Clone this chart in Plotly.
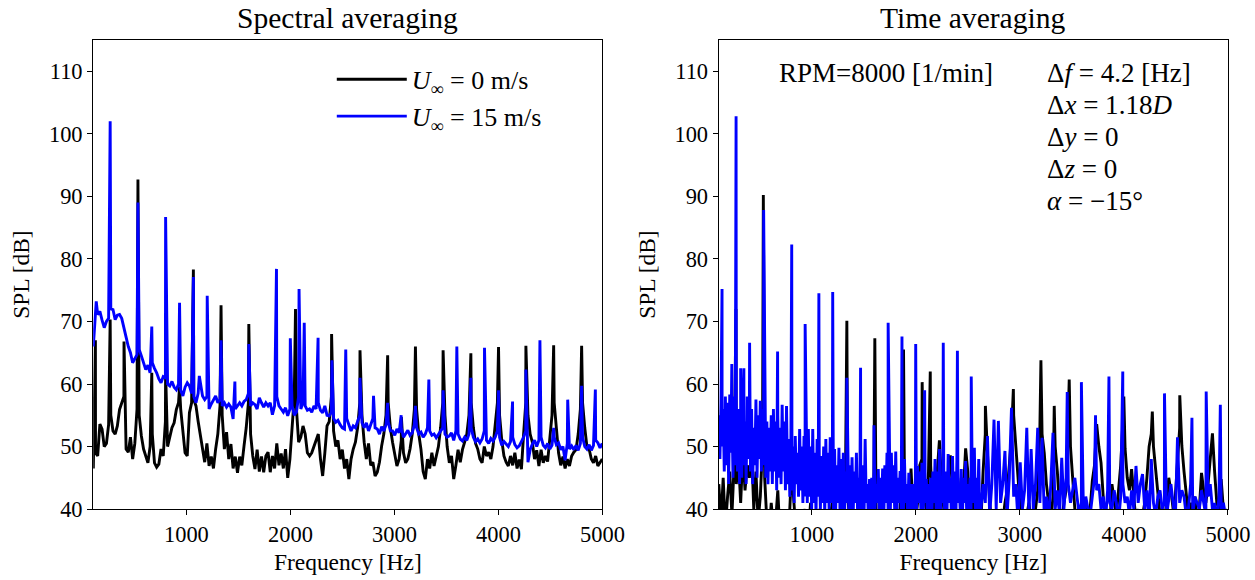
import plotly.graph_objects as go

# ---------------- data ----------------
# spectral bins used for the broadband part: 105 Hz ... 4998 Hz every 21 Hz
FREQ_START = 105
FREQ_STEP = 21
N_BINS = 234
N_LF = 120          # bins below 2615 Hz, where the time-averaged U=15 trace is read at half-bin steps

# Spectral averaging, U = 0 m/s : broadband level per bin [dB]
spec_u0_base = [
    46.5, 49.0, 48.5, 53.6, 52.8, 50.0, 50.5, 53.5, 55.0, 52.5,
    52.0, 53.3, 55.9, 57.0, 58.0, 49.6, 49.1, 51.5, 48.0, 50.5,
    56.0, 55.0, 51.7, 49.6, 48.5, 47.4, 50.0, 52.0, 47.4, 46.7,
    47.2, 49.6, 48.5, 54.0, 50.0, 51.7, 53.0, 53.8, 55.9, 57.0,
    56.0, 52.5, 49.0, 48.5, 55.4, 57.0, 57.5, 56.5, 54.0, 51.7,
    49.6, 47.5, 50.5, 46.9, 48.4, 46.5, 49.6, 52.0, 56.5, 55.0,
    49.6, 52.3, 48.0, 50.4, 46.5, 48.4, 45.8, 48.4, 47.0, 50.1,
    53.0, 57.0, 52.0, 48.5, 46.4, 49.5, 46.0, 48.4, 45.9, 48.5,
    49.1, 45.9, 48.5, 46.5, 50.5, 47.0, 48.9, 46.5, 49.6, 45.0,
    48.0, 53.9, 58.0, 56.0, 50.7, 51.5, 53.3, 52.0, 49.0, 48.5,
    49.0, 50.0, 50.7, 52.0, 48.0, 45.3, 49.0, 53.3, 54.0, 58.0,
    52.5, 50.0, 51.0, 48.0, 49.5, 46.5, 48.0, 44.8, 48.0, 49.6,
    50.7, 53.0, 57.0, 55.0, 50.7, 48.0, 50.5, 47.0, 47.5, 45.3,
    45.9, 47.5, 50.1, 52.0, 55.0, 57.0, 53.0, 50.7, 49.0, 46.9,
    48.0, 51.0, 49.0, 47.4, 48.0, 49.6, 52.0, 56.0, 56.0, 52.0,
    49.6, 46.0, 44.8, 48.0, 46.5, 49.0, 46.9, 48.5, 50.0, 53.0,
    57.0, 55.0, 50.0, 47.4, 48.5, 44.8, 47.0, 49.5, 47.5, 49.5,
    50.7, 52.0, 55.0, 57.0, 53.0, 50.5, 49.6, 48.0, 47.4, 50.0,
    48.5, 49.1, 48.0, 50.0, 53.0, 57.0, 55.0, 51.0, 48.5, 47.5,
    46.9, 48.5, 47.0, 49.0, 46.5, 47.9, 46.4, 52.0, 57.0, 55.0,
    52.0, 50.7, 48.0, 49.4, 46.9, 49.5, 47.4, 48.5, 47.6, 51.0,
    55.0, 57.0, 53.0, 49.0, 47.0, 48.4, 46.5, 48.0, 46.9, 48.5,
    49.1, 49.5, 52.0, 56.0, 57.0, 53.0, 50.0, 49.6, 48.0, 47.4,
    48.5, 46.9, 47.5, 48.0,
]
# Spectral averaging, U = 0 m/s : tonal peaks
spec_u0_peak_f = [125, 267, 400, 534, 667, 800, 934, 1067, 1333, 1600, 2049,
                  2396, 2669, 2935, 3067, 3202, 3468, 3735, 4001, 4264, 4531, 4800]
spec_u0_peak_spl = [67.0, 70.3, 66.8, 92.7, 61.8, 62.0, 59.5, 78.3, 72.6, 69.6, 72.0,
                    68.0, 65.4, 64.6, 54.7, 66.0, 65.4, 64.9, 65.9, 66.1, 66.2, 66.1]

# Spectral averaging, U = 15 m/s : broadband level per bin [dB]
spec_u15_base = [
    66.0, 71.0, 71.1, 71.6, 70.2, 69.0, 70.0, 70.5, 72.0, 71.9,
    70.3, 71.0, 71.1, 70.5, 69.2, 67.5, 66.0, 65.0, 63.4, 64.0,
    64.7, 65.5, 64.5, 63.4, 62.3, 63.0, 61.8, 63.4, 62.5, 61.8,
    60.8, 60.2, 61.2, 61.0, 60.0, 59.7, 60.4, 59.5, 59.1, 60.0,
    59.0, 58.1, 59.5, 60.2, 59.7, 58.5, 58.0, 57.0, 58.5, 60.2,
    58.1, 57.5, 58.0, 56.0, 56.8, 57.5, 58.1, 57.0, 57.5, 56.5,
    57.0, 56.3, 56.8, 56.3, 54.4, 56.0, 56.5, 57.0, 56.5, 57.2,
    57.5, 58.5, 56.5, 57.0, 56.7, 56.0, 57.8, 57.0, 56.3, 57.0,
    56.5, 57.0, 55.1, 56.5, 58.0, 56.5, 56.0, 55.5, 56.2, 54.9,
    56.0, 56.5, 55.0, 55.5, 58.0, 56.0, 57.0, 56.5, 55.8, 56.0,
    55.5, 56.5, 56.0, 57.0, 55.8, 55.4, 56.5, 55.0, 54.9, 55.5,
    54.5, 53.9, 54.2, 53.5, 53.0, 52.8, 54.5, 53.5, 52.5, 53.3,
    53.0, 54.0, 55.0, 53.8, 53.0, 53.8, 52.5, 53.5, 54.5, 53.0,
    52.8, 52.0, 53.2, 52.5, 53.5, 54.0, 52.5, 52.5, 51.8, 52.8,
    52.2, 53.0, 51.5, 52.0, 52.6, 51.8, 52.2, 53.5, 53.0, 52.0,
    52.3, 51.5, 52.0, 53.0, 52.5, 51.8, 52.0, 51.4, 52.0, 52.5,
    53.0, 52.0, 51.5, 51.7, 52.2, 51.0, 52.5, 52.0, 51.2, 50.9,
    51.5, 51.0, 52.0, 53.0, 51.5, 50.8, 51.2, 50.6, 51.2, 52.5,
    51.0, 50.5, 51.3, 50.9, 51.5, 52.5, 51.5, 50.2, 50.8, 50.4,
    50.0, 50.8, 51.5, 50.3, 49.8, 50.1, 50.8, 51.5, 52.5, 47.5,
    49.5, 50.4, 51.0, 50.0, 51.0, 51.5, 50.2, 49.8, 50.5, 49.6,
    50.2, 51.5, 50.3, 50.6, 49.5, 50.0, 47.8, 50.5, 49.6, 50.1,
    49.5, 50.2, 49.4, 50.5, 51.5, 50.0, 49.6, 50.3, 49.4, 50.2,
    51.0, 50.6, 49.8, 50.5,
]
spec_u15_peak_f = [133, 267, 534, 667, 800, 934, 1067, 1124, 1200, 1333, 1466, 1600,
                   1866, 1999, 2083, 2133, 2266, 2399, 2532, 2669, 2799, 2935, 3065,
                   3202, 3331, 3468, 3600, 3735, 3866, 4001, 4136, 4264, 4399, 4531,
                   4666, 4800, 4932]
spec_u15_peak_spl = [73.2, 102.0, 89.0, 69.2, 86.7, 73.0, 77.1, 61.3, 74.1, 67.0, 60.4, 66.4,
                     78.4, 67.3, 75.2, 69.8, 67.4, 63.8, 65.5, 61.0, 58.1, 57.0, 55.0,
                     56.5, 60.7, 59.0, 66.0, 61.0, 65.8, 59.0, 57.2, 62.3, 67.0, 53.0,
                     57.5, 59.7, 59.1]

# Time averaging, U = 0 m/s : broadband level per bin [dB]
time_u0_base = [
    44, 38, 45, 37, 42, 46, 39, 47, 44, 48,
    41, 49, 43, 47, 45, 49.5, 40, 46, 38, 42,
    50, 45, 38, 36, 41, 37, 38, 43, 36, 38,
    37, 39, 36, 44, 43, 38, 36, 39, 37, 40,
    38, 36, 41, 39, 37, 38, 40, 36, 38, 37,
    36, 39, 41, 37, 38, 36, 39, 40, 45, 42,
    38, 36, 39, 37, 40, 38, 36, 39, 37, 38,
    41, 45, 40, 37, 38, 36, 39, 37, 36, 38,
    37, 39, 36, 40, 46, 44, 38, 37, 46.5, 39,
    38, 41, 47, 48, 42, 40, 46, 47, 39, 41,
    46, 51, 44, 40, 42, 45, 48.6, 43, 40, 44,
    41, 45, 43, 49.7, 46, 38, 42, 36, 39, 40,
    38, 46, 52, 48, 41, 38, 36, 39, 37, 40,
    38, 41, 43, 47, 52, 55, 50, 44, 40, 38,
    37, 39, 41, 38, 36, 40, 43, 53, 52, 49,
    44, 41, 38, 42, 50, 46, 40, 38, 41, 43,
    55, 50, 44, 40, 38, 37, 39, 36, 41, 38,
    40, 44.5, 47, 53.6, 50, 47.4, 42, 38, 40, 37,
    44, 41, 39, 43, 47, 54, 49.7, 45, 43, 46.4,
    42, 38, 40, 37, 39, 41, 45, 50, 52, 50,
    46, 42, 39, 40, 38, 41, 45, 43, 40, 42,
    48, 53, 50.1, 46, 42, 39, 41, 40, 42, 38,
    40, 45.8, 43, 41, 44, 48, 52.1, 46, 41, 40,
    44.8, 40, 39, 40,
]
time_u0_peak_f = [270, 533, 1336, 1605, 1881, 2060, 2138, 2668, 2937, 3202, 3330,
                  3474, 3999, 4273, 4537, 4849]
time_u0_peak_spl = [72.0, 90.2, 70.1, 67.3, 65.5, 60.3, 62.0, 56.5, 59.2, 63.8, 56.5,
                    60.7, 58.0, 55.6, 58.2, 52.1]

# Time averaging, U = 15 m/s, below 2615 Hz: local maxima at the bins ...
time_u15_lf_top = [
    55, 57, 56, 58, 57, 58.3, 56, 58, 57, 56,
    55, 57, 54, 58, 56, 56, 53, 57.5, 55, 57.3,
    56, 57, 54, 53, 55, 56, 54, 55, 53, 56.7,
    54, 56.5, 51.2, 51, 50, 51.7, 49, 52.8, 50, 51.7,
    50, 52.8, 50, 52.8, 49, 51.2, 48, 48.5, 50, 51.2,
    49, 51.5, 48, 49.6, 47, 49.8, 48, 49, 46, 47,
    47, 48.3, 46, 49, 45, 44.8, 47, 51.2, 44, 44.8,
    45, 46.1, 44, 46.4, 45, 46.5, 47, 49, 46, 49,
    47, 49.2, 45, 46.1, 47, 48, 44, 45.8, 44, 44,
    45, 46.9, 46, 47.4, 45, 44.8, 44, 45, 46, 48,
    46, 49.6, 44, 44.8, 46, 48.8, 45, 48.5, 46, 48,
    44, 46.4, 45, 47.7, 44, 45, 46, 49.8, 45, 48,
]
# ... and local minima half a bin later
time_u15_lf_dip = [
    48, 50, 46, 47, 44, 49, 45, 47, 46, 44,
    45, 47, 44, 48, 46, 44, 47, 45, 48, 46,
    47, 45, 44, 46, 44, 46, 43, 45, 44, 46,
    43, 44, 42, 43, 41, 44, 42, 43, 41, 42,
    41, 42, 40, 41, 39, 42, 40, 41, 39, 41,
    40, 41, 39, 40, 41, 39, 40, 38, 41, 40,
    40, 39, 41, 40, 38, 40, 39, 41, 38, 40,
    39, 40, 41, 39, 40, 38, 41, 40, 39, 41,
    40, 39, 41, 40, 38, 41, 39, 40, 38, 40,
    39, 41, 40, 38, 41, 39, 40, 38, 41, 40,
    40, 39, 41, 38, 40, 41, 39, 40, 38, 41,
    40, 38, 41, 39, 40, 38, 41, 39, 40, 38,
]
# Time averaging, U = 15 m/s, from 2625 Hz: level per bin
time_u15_hf = [
    40, 44, 41, 51.7, 39, 44, 54.3, 40, 54.1, 41,
    44, 49.3, 39, 45, 56.2, 42, 44, 38, 47.5, 40,
    43, 53, 39, 49.6, 40, 44, 53, 41, 51.4, 39,
    42, 38, 44, 52.2, 40, 43, 39, 48.2, 40, 45,
    44, 41, 43, 45, 42, 39, 41, 38, 42, 40,
    39, 42, 45, 43, 44, 40, 42, 38, 43, 41,
    40, 43, 41, 38, 42, 44, 41, 42, 39, 43,
    40, 46.9, 41, 44, 45.6, 40, 43, 38, 48, 41,
    39, 42, 43, 40, 41, 39, 42, 44, 41, 38,
    51.5, 41, 43, 42, 39, 40, 44, 39, 42, 41,
    40, 43, 41, 39, 42, 44, 40, 41, 38, 42,
    40, 41, 39, 40,
]
time_u15_peak_f = [136, 230, 271, 315, 346, 401, 536, 670, 806, 935, 1067, 1200, 1336,
                   1468, 1597, 1733, 1866, 1998, 2084, 2263, 2399, 2532, 3455, 3591,
                   3727, 3856, 3989, 4390, 4654, 4791, 4927]
time_u15_peak_spl = [75.2, 63.2, 102.8, 62.5, 62.5, 66.6, 87.8, 65.2, 82.3, 69.6, 74.5,
                     74.7, 61.0, 62.6, 53.4, 69.8, 67.6, 66.4, 59.0, 66.6, 65.3, 61.2,
                     58.7, 60.3, 55.0, 61.2, 62.0, 58.5, 54.6, 58.8, 56.7]

series_names = ["<i>U</i><sub>∞</sub> = 0 m/s", "<i>U</i><sub>∞</sub> = 15 m/s"]
y_ticks = [40, 50, 60, 70, 80, 90, 100, 110]
x_ticks = [1000, 2000, 3000, 4000, 5000]
panel_titles = ["Spectral averaging", "Time averaging"]
info_lines = ["Δ<i>f</i> = 4.2 [Hz]", "Δ<i>x</i> = 1.18<i>D</i>", "Δ<i>y</i> = 0",
              "Δ<i>z</i> = 0", "<i>α</i> = −15°"]
rpm_text = "RPM=8000 [1/min]"

# ---------------- build ----------------
bins = [FREQ_START + FREQ_STEP * i for i in range(N_BINS)]
half = FREQ_STEP / 2
for arr in (spec_u0_base, spec_u15_base, time_u0_base):
    assert len(arr) == N_BINS, len(arr)
assert len(time_u15_lf_top) == N_LF and len(time_u15_lf_dip) == N_LF
assert len(time_u15_hf) == N_BINS - N_LF


def merge(pairs, pf, ps):
    pts = sorted(list(pairs) + list(zip(pf, ps)))
    return [p[0] for p in pts], [p[1] for p in pts]


# the page is photographed as a 1280 x 592 CSS-pixel view reduced to 1255 x 580
REF_W, REF_H = 1255, 580
W, H = 1280, 592
K = W / REF_W          # font scale


def px(x):
    return x / REF_W


def py(y):
    return 1 - y / REF_H


def fs(s):
    return s * K


FONT = "Liberation Serif"
L1, R1 = px(93), px(601)
L2, R2 = px(717), px(1225)
B, T = py(510), py(40)

fig = go.Figure()
colors = ["#000000", "#0000ff"]
spec = [(zip(bins, spec_u0_base), spec_u0_peak_f, spec_u0_peak_spl),
        (zip(bins, spec_u15_base), spec_u15_peak_f, spec_u15_peak_spl)]
u15_pairs = (list(zip(bins[:N_LF], time_u15_lf_top))
             + list(zip([f + half for f in bins[:N_LF]], time_u15_lf_dip))
             + list(zip(bins[N_LF:], time_u15_hf)))
timed = [(zip(bins, time_u0_base), time_u0_peak_f, time_u0_peak_spl),
         (u15_pairs, time_u15_peak_f, time_u15_peak_spl)]
for i, (pairs, pf, ps) in enumerate(spec):
    x, y = merge(pairs, pf, ps)
    fig.add_trace(go.Scatter(x=x, y=y, mode="lines", name=series_names[i],
                             line=dict(color=colors[i], width=2.9),
                             xaxis="x", yaxis="y"))
for i, (pairs, pf, ps) in enumerate(timed):
    x, y = merge(pairs, pf, ps)
    fig.add_trace(go.Scatter(x=x, y=y, mode="lines", showlegend=False,
                             line=dict(color=colors[i], width=2.9),
                             xaxis="x2", yaxis="y2"))

axis_common = dict(showline=True, linecolor="black", linewidth=1.3, mirror=True,
                   ticks="outside", ticklen=5, tickwidth=1.2, tickcolor="black",
                   showgrid=False, zeroline=False,
                   tickfont=dict(family=FONT, size=fs(22), color="black"))
xcommon = dict(axis_common, range=[104, 5000], tickvals=x_ticks,
               title=dict(text="Frequency [Hz]",
                          font=dict(family=FONT, size=fs(23), color="black"), standoff=7))
ycommon = dict(axis_common, range=[40, 115], tickvals=y_ticks,
               title=dict(text="SPL [dB]",
                          font=dict(family=FONT, size=fs(23), color="black"), standoff=12))

annotations = []
for (l, r), t in zip([(L1, R1), (L2, R2)], panel_titles):
    annotations.append(dict(text=t, x=(l + r) / 2, y=py(18), xref="paper", yref="paper",
                            showarrow=False, xanchor="center", yanchor="middle",
                            font=dict(family=FONT, size=fs(29), color="black")))
annotations.append(dict(text=rpm_text, x=px(884), y=py(73), xref="paper", yref="paper",
                        showarrow=False, xanchor="center", yanchor="middle",
                        font=dict(family=FONT, size=fs(26.5), color="black")))
for k, line in enumerate(info_lines):
    annotations.append(dict(text=line, x=px(1043), y=py(73 + 32 * k),
                            xref="paper", yref="paper", showarrow=False,
                            xanchor="left", yanchor="middle",
                            font=dict(family=FONT, size=fs(26.5), color="black")))

fig.update_layout(
    width=W, height=H, margin=dict(l=0, r=0, t=0, b=0),
    paper_bgcolor="white", plot_bgcolor="white",
    font=dict(family=FONT, color="black"),
    xaxis=dict(xcommon, domain=[L1, R1], anchor="y"),
    yaxis=dict(ycommon, domain=[B, T], anchor="x"),
    xaxis2=dict(xcommon, domain=[L2, R2], anchor="y2"),
    yaxis2=dict(ycommon, domain=[B, T], anchor="x2"),
    legend=dict(x=px(331), y=py(56), xanchor="left", yanchor="top",
                bgcolor="rgba(0,0,0,0)", itemwidth=70, tracegroupgap=0,
                font=dict(family=FONT, size=fs(25.5), color="black")),
    annotations=annotations,
    showlegend=True,
)

fig.write_html("out.html")
